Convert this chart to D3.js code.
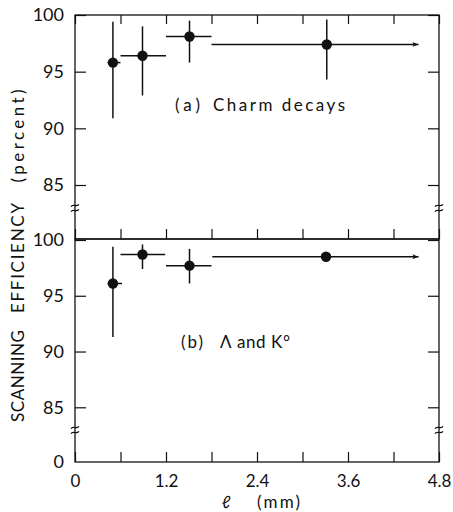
<!DOCTYPE html>
<html>
<head>
<meta charset="utf-8">
<script src="https://cdn.jsdelivr.net/npm/d3@7"></script>
<style>
  html, body { margin: 0; padding: 0; background: #fff; }
  svg text { font-family: Lato, "Open Sans", sans-serif; font-weight: 400; fill: #111; }
</style>
</head>
<body>
<svg id="chart" width="453" height="512"></svg>
<script>
// ---------- data ----------
const xTickValues = [0, 0.6, 1.2, 1.8, 2.4, 3.0, 3.6, 4.2, 4.8];
const xTickLabels = [0, 1.2, 2.4, 3.6, 4.8];
const yTickValues = [85, 90, 95, 100];

// (a) Charm decays
const aX    = [0.50, 0.89, 1.51, 3.32];
const aXlo  = [0.43, 0.60, 1.20, 1.80];
const aXhi  = [0.60, 1.20, 1.80, 4.53];
const aY    = [95.8, 96.4, 98.1, 97.4];
const aYlo  = [90.9, 92.9, 95.8, 94.3];
const aYhi  = [99.4, 99.0, 99.5, 99.6];
const aArrow = [false, false, false, true];

// (b) Lambda and K0
const bX    = [0.50, 0.89, 1.51, 3.31];
const bXlo  = [0.43, 0.60, 1.20, 1.81];
const bXhi  = [0.62, 1.19, 1.80, 4.53];
const bY    = [96.1, 98.7, 97.7, 98.5];
const bYlo  = [91.3, 97.4, 96.1, 98.5];
const bYhi  = [99.4, 99.6, 99.2, 98.5];
const bArrow = [false, false, false, true];

// ---------- layout ----------
const svg = d3.select("#chart");
const left = 75, right = 439;
const x = d3.scaleLinear().domain([0, 4.8]).range([left, right]);

const panels = [
  { top: 15, bottom: 239, y85: 185, y100: 15, tag: "(a)", tagX: 175, tagLen: 25, label: "Charm decays", labelX: 213, labelLen: 132, labelY: 111,
    X: aX, Xlo: aXlo, Xhi: aXhi, Y: aY, Ylo: aYlo, Yhi: aYhi, arrow: aArrow, breakY: 208, zero: false },
  { top: 239, bottom: 462, y85: 407.3, y100: 240, tag: "(b)", tagX: 181, tagLen: 22, label: "Λ and K°", labelX: 220, labelLen: 70, labelY: 348,
    X: bX, Xlo: bXlo, Xhi: bXhi, Y: bY, Ylo: bYlo, Yhi: bYhi, arrow: bArrow, breakY: 430, zero: true }
];

const stroke = "#111";
const fontSize = 17;

svg.append("defs").append("marker")
  .attr("id", "arrow").attr("viewBox", "0 0 10 10")
  .attr("refX", 10).attr("refY", 5)
  .attr("markerWidth", 12).attr("markerHeight", 6)
  .attr("markerUnits", "userSpaceOnUse")
  .attr("orient", "auto")
  .append("path").attr("d", "M0,1 L10,5 L0,9 L2,5 Z").attr("fill", stroke);

panels.forEach((p, pi) => {
  const y = d3.scaleLinear().domain([85, 100]).range([p.y85, p.y100]);
  const g = svg.append("g");

  // frame
  g.append("rect").attr("x", left).attr("y", p.top)
    .attr("width", right - left).attr("height", p.bottom - p.top)
    .attr("fill", "none").attr("stroke", stroke).attr("stroke-width", 1.3);

  // left axis ticks + labels
  const ly = g.append("g").attr("transform", `translate(${left},0)`)
    .call(d3.axisLeft(y).tickValues(yTickValues).tickSize(-11).tickPadding(11).tickFormat(d3.format("d")));
  ly.select(".domain").remove();
  ly.selectAll("line").attr("stroke", stroke).attr("stroke-width", 1.2);
  ly.selectAll("text").attr("font-size", 18).attr("fill", stroke).style("font-family", "Lato").style("font-weight", 400);

  // right ticks
  const ry = g.append("g").attr("transform", `translate(${right},0)`)
    .call(d3.axisRight(y).tickValues(yTickValues).tickSize(-11).tickFormat(""));
  ry.select(".domain").remove();
  ry.selectAll("line").attr("stroke", stroke).attr("stroke-width", 1.2);

  // x ticks
  if (pi === 0) {
    const tx = g.append("g").attr("transform", `translate(0,${p.top})`)
      .call(d3.axisTop(x).tickValues(xTickValues).tickSize(-9).tickFormat(""));
    tx.select(".domain").remove();
    tx.selectAll("line").attr("stroke", stroke).attr("stroke-width", 1.2);
  }
  const bx = g.append("g").attr("transform", `translate(0,${p.bottom})`)
    .call(d3.axisBottom(x).tickValues(xTickValues).tickSize(-10).tickPadding(13)
      .tickFormat(d => (p.zero && xTickLabels.includes(d)) ? (d === 0 ? "0" : d3.format(".1f")(d)) : ""));
  bx.select(".domain").remove();
  bx.selectAll("line").attr("stroke", stroke).attr("stroke-width", 1.2);
  bx.selectAll("text").attr("font-size", fontSize).attr("fill", stroke).style("font-family", "Lato").style("font-weight", 400);

  // bottom-panel "0" label on y axis
  if (p.zero) {
    g.append("text").attr("x", left - 11).attr("y", p.bottom).attr("dy", "0.35em")
      .attr("text-anchor", "end").attr("font-size", 18).text("0");
  }

  // axis break marks
  [left, right].forEach(ax => {
    [-2.5, 2.5].forEach(off => {
      const yy = p.breakY + off;
      g.append("path")
        .attr("d", `M${ax - 4},${yy + 1.2} C${ax - 2},${yy - 2.5} ${ax + 1},${yy + 2.5} ${ax + 4},${yy - 1.2}`)
        .attr("fill", "none").attr("stroke", stroke).attr("stroke-width", 1.2);
    });
  });

  // data
  p.X.forEach((xv, i) => {
    const hl = g.append("line")
      .attr("x1", x(p.Xlo[i])).attr("x2", x(p.Xhi[i]))
      .attr("y1", y(p.Y[i])).attr("y2", y(p.Y[i]))
      .attr("stroke", stroke).attr("stroke-width", 1.5);
    if (p.arrow[i]) hl.attr("marker-end", "url(#arrow)");
    if (p.Yhi[i] !== p.Ylo[i]) {
      g.append("line")
        .attr("x1", x(xv)).attr("x2", x(xv))
        .attr("y1", y(p.Ylo[i])).attr("y2", y(p.Yhi[i]))
        .attr("stroke", stroke).attr("stroke-width", 1.5);
    }
    g.append("circle").attr("cx", x(xv)).attr("cy", y(p.Y[i])).attr("r", 5.2).attr("fill", stroke);
  });

  // panel label
  g.append("text").attr("x", p.tagX).attr("y", p.labelY)
    .attr("font-size", fontSize).attr("textLength", p.tagLen).attr("lengthAdjust", "spacing").text(p.tag);
  g.append("text").attr("x", p.labelX).attr("y", p.labelY)
    .attr("font-size", fontSize).attr("textLength", p.labelLen).attr("lengthAdjust", "spacing").text(p.label);
});

// y axis title, word by word (rotated)
const yTitle = [
  { t: "SCANNING", c: 376, len: 92 },
  { t: "EFFICIENCY", c: 258, len: 110 },
  { t: "(percent)", c: 136, len: 93 }
];
yTitle.forEach(w => {
  svg.append("text")
    .attr("transform", `translate(24,${w.c}) rotate(-90)`)
    .attr("text-anchor", "middle").attr("font-size", 17)
    .attr("textLength", w.len).attr("lengthAdjust", "spacing")
    .text(w.t);
});

svg.append("text").attr("x", 226).attr("y", 507.5).attr("font-size", 17)
  .attr("font-style", "italic").attr("text-anchor", "middle").text("ℓ");
svg.append("text").attr("x", 257).attr("y", 507.5).attr("font-size", 17)
  .attr("textLength", 43).attr("lengthAdjust", "spacing").text("(mm)");
</script>
</body>
</html>
